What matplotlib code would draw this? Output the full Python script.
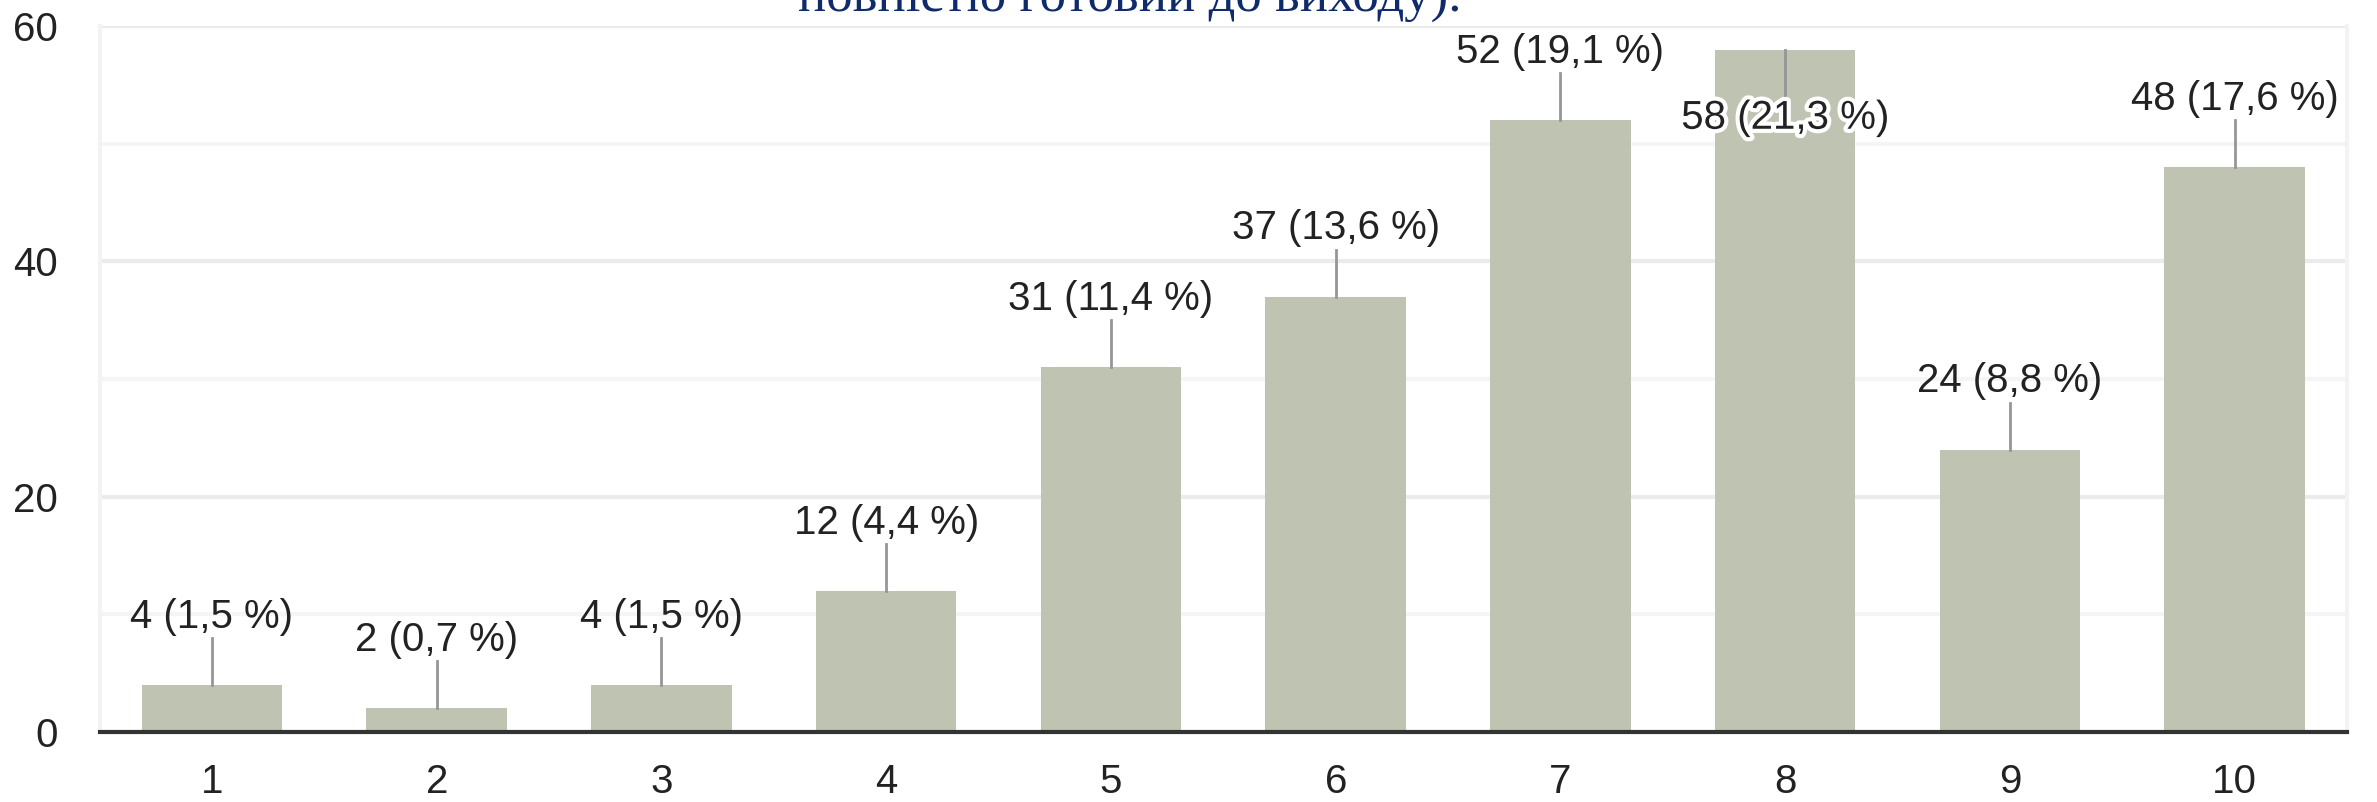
import matplotlib
matplotlib.use("Agg")
import matplotlib.pyplot as plt
import matplotlib.patheffects as pe
from matplotlib import font_manager
import numpy as np

categories = ["1", "2", "3", "4", "5", "6", "7", "8", "9", "10"]
counts = [4, 2, 4, 12, 31, 37, 52, 58, 24, 48]
percents = ["1,5", "0,7", "1,5", "4,4", "11,4", "13,6", "19,1", "21,3", "8,8", "17,6"]
title_tail = "повністю готовий до виходу)."

BAR_COLOR = "#bec4b1"
TEXT_COLOR = "#222222"
LINE_COLOR = "#969696"
YMAX = 60

# the labels in the reference are tall and narrow; use the narrow face if present
try:
    font_manager.findfont("Liberation Sans Narrow", fallback_to_default=False)
    LABEL_FONT, LABEL_SIZE, TICK_SIZE = "Liberation Sans Narrow", 35, 33
except ValueError:
    LABEL_FONT, LABEL_SIZE, TICK_SIZE = "Liberation Sans", 29, 29
print("label font:", LABEL_FONT)

plt.rcParams["font.family"] = [LABEL_FONT, "DejaVu Sans"]

fig = plt.figure(figsize=(23.77, 8.02), dpi=100)
ax = fig.add_axes([0.0419, 0.0873, 0.9455, 0.8803])

x = np.arange(1, len(categories) + 1)
ax.bar(x, counts, width=0.625, color=BAR_COLOR, zorder=2)

# value labels with short leader lines
for xi, v, p in zip(x, counts, percents):
    label = f"{v} ({p} %)"
    if v + 8 > YMAX:
        ax.plot([xi, xi], [v, v - 4], color=LINE_COLOR, lw=2, zorder=3)
        ax.text(xi, v - 5.8, label, ha="center", va="center",
                fontsize=LABEL_SIZE, color=TEXT_COLOR, zorder=4,
                path_effects=[pe.withStroke(linewidth=6, foreground="white")])
    else:
        ax.plot([xi, xi], [v, v + 4], color=LINE_COLOR, lw=2, zorder=3)
        ax.text(xi, v + 5.8, label, ha="center", va="center",
                fontsize=LABEL_SIZE, color=TEXT_COLOR, zorder=4)

ax.set_xlim(0.5, len(categories) + 0.5)
ax.set_ylim(0, YMAX)
ax.set_xticks(x)
ax.set_xticklabels(categories)
ax.set_yticks([0, 20, 40, 60])
ax.set_yticks([10, 30, 50], minor=True)
ax.tick_params(axis="both", which="both", length=0, labelsize=TICK_SIZE,
               labelcolor=TEXT_COLOR)
ax.tick_params(axis="x", pad=22)
ax.tick_params(axis="y", pad=30)

ax.grid(axis="y", which="major", color="#ebebeb", lw=3, zorder=0)
ax.grid(axis="y", which="minor", color="#f5f5f5", lw=3, zorder=0)
ax.set_axisbelow(True)

for side in ("left", "right"):
    ax.spines[side].set_color("#f3f3f3")
    ax.spines[side].set_linewidth(3)
ax.spines["top"].set_visible(False)
ax.spines["bottom"].set_color("#333333")
ax.spines["bottom"].set_linewidth(3)
ax.spines["bottom"].set_zorder(5)

# title is cut off at the top of the picture, only its last line shows
fig.text(0.4754, 0.985, title_tail, ha="center", va="baseline",
         fontsize=38, color="#0f2b6b",
         family=["Liberation Serif", "DejaVu Serif"])

fig.savefig("out.png", dpi=100)
